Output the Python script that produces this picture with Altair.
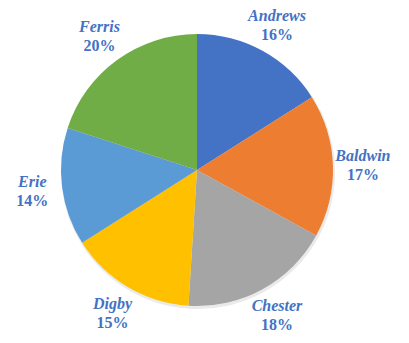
import altair as alt
import pandas as pd

names = ["Andrews", "Baldwin", "Chester", "Digby", "Erie", "Ferris"]
shares = [16, 17, 18, 15, 14, 20]
colors = ["#4472C4", "#ED7D31", "#A5A5A5", "#FFC000", "#5B9BD5", "#70AD47"]

df = pd.DataFrame({
    "name": names,
    "share": shares,
    "idx": list(range(len(names))),
    "pct": [f"{v}%" for v in shares],
})

base = alt.Chart(df).encode(
    theta=alt.Theta("share:Q", stack=True),
    order=alt.Order("idx:O", sort="ascending"),
)

cx, cy = 189, 162
R = 136
LR = 166

shadow = base.mark_arc(radius=R + 1, color="#d0d0d0", opacity=0.45).encode(
    x=alt.value(cx + 1), y=alt.value(cy + 2)
)

pie = base.mark_arc(radius=R, strokeWidth=0).encode(
    x=alt.value(cx), y=alt.value(cy),
    color=alt.Color("name:N", scale=alt.Scale(domain=names, range=colors), legend=None),
)

name_txt = base.mark_text(
    radius=LR, dy=-9, font="Liberation Serif", fontSize=16,
    fontWeight="bold", fontStyle="italic", color="#4472C4",
).encode(x=alt.value(cx), y=alt.value(cy), text="name:N")

pct_txt = base.mark_text(
    radius=LR, dy=10, font="Liberation Serif", fontSize=16,
    fontWeight="bold", color="#4472C4",
).encode(x=alt.value(cx), y=alt.value(cy), text="pct:N")

chart = alt.layer(shadow, pie, name_txt, pct_txt).properties(
    width=393, height=327, padding=0,
    autosize=alt.AutoSizeParams(type="none"),
).configure_view(stroke=None)

chart.save("out.html", embed_options={"renderer": "svg", "actions": False})
